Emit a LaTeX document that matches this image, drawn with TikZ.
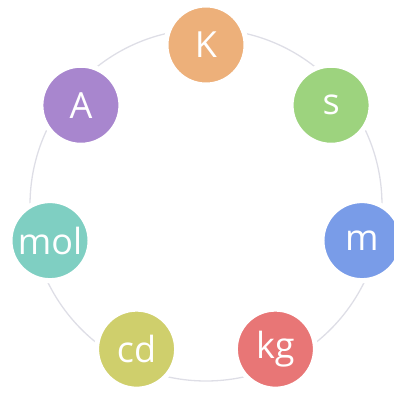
\documentclass[tikz,border=0pt]{standalone}
\usepackage{fontspec}
\setmainfont{Open Sans}
\usetikzlibrary{calc}
\definecolor{cK}{HTML}{EDB07A}
\definecolor{cS}{HTML}{9DD37E}
\definecolor{cM}{HTML}{799CE8}
\definecolor{cKG}{HTML}{E87676}
\definecolor{cCD}{HTML}{CFCF6C}
\definecolor{cMOL}{HTML}{7FCFC2}
\definecolor{cA}{HTML}{A886CE}
\definecolor{ring}{HTML}{DEDEE6}
\begin{document}
\begin{tikzpicture}[x=1pt,y=1pt,
  unit/.style={circle,minimum size=80pt,inner sep=0pt,text=white,
    draw=white,line width=5pt,
    font=\fontsize{36}{36}\selectfont},
  ringline/.style={draw=ring,line width=1.3pt}]
\useasboundingbox (0,0) rectangle (394,392);
\clip (0,0) rectangle (394,392);
\coordinate (c) at (206,187);
\draw[ringline] (c) circle[radius=176];
\node[unit,fill=cK]   (K)   at ($(c)+(90:160pt)$) {K};
\node[unit,fill=cS]   (s)   at ($(c)+(38.57:160pt)$) {s};
\node[unit,fill=cM]   (m)   at ($(c)+(-12.86:160pt)$) {m};
\node[unit,fill=cKG]  (kg)  at ($(c)+(-64.29:160pt)$) {kg};
\node[unit,fill=cCD]  (cd)  at ($(c)+(-115.71:160pt)$) {cd};
\node[unit,fill=cMOL] (mol) at ($(c)+(-167.14:160pt)$) {mol};
\node[unit,fill=cA]   (A)   at ($(c)+(141.43:160pt)$) {A};
\end{tikzpicture}
\end{document}
